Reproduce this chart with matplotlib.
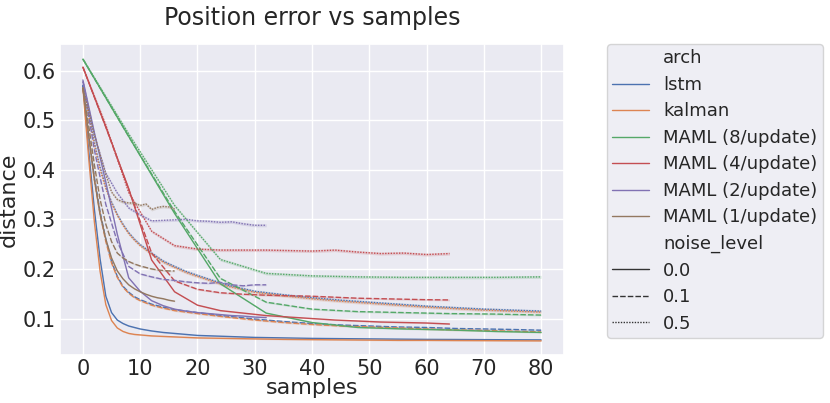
import matplotlib
matplotlib.use("Agg")
import matplotlib.pyplot as plt
from matplotlib.lines import Line2D
import seaborn as sns
import numpy as np

sns.set_theme(style="darkgrid")
plt.rcParams['font.family'] = ['DejaVu Sans']

# ---------------- data ----------------
archs = ["lstm", "kalman", "MAML (8/update)", "MAML (4/update)",
         "MAML (2/update)", "MAML (1/update)"]
noise_levels = ["0.0", "0.1", "0.5"]
# approximate confidence half-width per noise level
ci_half = [0.0012, 0.0018, 0.0030]

lk_x = [0, 1, 2, 3, 4, 5, 6, 7, 8, 9, 10, 12, 14, 16, 18, 20, 25, 30, 35,
        40, 45, 50, 55, 60, 65, 70, 75, 80]
lstm_00 = [0.570, 0.440, 0.320, 0.220, 0.145, 0.112, 0.097, 0.090, 0.085, 0.082,
           0.079, 0.075, 0.072, 0.070, 0.068, 0.066, 0.064, 0.062, 0.061, 0.060,
           0.0595, 0.059, 0.0585, 0.058, 0.0578, 0.0575, 0.0572, 0.057]
lstm_01 = [0.570, 0.470, 0.385, 0.315, 0.260, 0.215, 0.185, 0.165, 0.153, 0.144,
           0.138, 0.129, 0.123, 0.118, 0.115, 0.112, 0.105, 0.099, 0.094, 0.090,
           0.087, 0.085, 0.083, 0.082, 0.080, 0.079, 0.078, 0.0765]
lstm_05 = [0.570, 0.515, 0.455, 0.405, 0.365, 0.335, 0.310, 0.290, 0.273, 0.260,
           0.249, 0.232, 0.216, 0.205, 0.195, 0.187, 0.168, 0.155, 0.148, 0.142,
           0.137, 0.133, 0.129, 0.125, 0.122, 0.119, 0.117, 0.115]
kalman_00 = [0.565, 0.425, 0.295, 0.195, 0.128, 0.096, 0.081, 0.074, 0.070, 0.068,
             0.067, 0.065, 0.064, 0.063, 0.062, 0.061, 0.060, 0.059, 0.058, 0.0575,
             0.057, 0.0565, 0.056, 0.056, 0.0557, 0.0555, 0.0552, 0.055]
kalman_01 = [0.565, 0.465, 0.380, 0.310, 0.255, 0.212, 0.183, 0.163, 0.151, 0.142,
             0.136, 0.127, 0.121, 0.116, 0.113, 0.110, 0.103, 0.097, 0.092, 0.088,
             0.085, 0.083, 0.081, 0.079, 0.077, 0.076, 0.0745, 0.073]
kalman_05 = [0.565, 0.510, 0.450, 0.400, 0.362, 0.332, 0.308, 0.288, 0.271, 0.258,
             0.247, 0.230, 0.214, 0.203, 0.193, 0.185, 0.166, 0.153, 0.146, 0.140,
             0.135, 0.131, 0.127, 0.123, 0.120, 0.117, 0.115, 0.113]

m8_x = [0, 8, 16, 24, 32, 40, 48, 56, 64, 72, 80]
m8_00 = [0.623, 0.467, 0.312, 0.170, 0.111, 0.092, 0.082, 0.079, 0.077, 0.074, 0.072]
m8_01 = [0.623, 0.467, 0.316, 0.181, 0.133, 0.119, 0.114, 0.112, 0.110, 0.109, 0.107]
m8_05 = [0.623, 0.472, 0.328, 0.219, 0.191, 0.186, 0.184, 0.183, 0.183, 0.183, 0.184]

m4_x = [0, 4, 8, 12, 16, 20, 24, 28, 32, 36, 40, 44, 48, 52, 56, 60, 64]
m4_00 = [0.607, 0.486, 0.362, 0.218, 0.154, 0.127, 0.116, 0.111, 0.106, 0.103,
         0.100, 0.097, 0.095, 0.093, 0.092, 0.091, 0.089]
m4_01 = [0.607, 0.486, 0.360, 0.232, 0.176, 0.159, 0.152, 0.149, 0.147, 0.146,
         0.145, 0.143, 0.141, 0.140, 0.139, 0.138, 0.1375]
m4_05 = [0.607, 0.490, 0.354, 0.276, 0.247, 0.240, 0.238, 0.238, 0.238, 0.237,
         0.236, 0.238, 0.234, 0.231, 0.232, 0.229, 0.231]

m2_x = [0, 2, 4, 6, 8, 10, 12, 14, 16, 18, 20, 22, 24, 26, 28, 30, 32]
m2_00 = [0.581, 0.475, 0.375, 0.270, 0.182, 0.155, 0.136, 0.126, 0.119, 0.115,
         0.112, 0.110, 0.108, 0.106, 0.105, 0.103, 0.102]
m2_01 = [0.578, 0.440, 0.330, 0.255, 0.205, 0.190, 0.184, 0.179, 0.177, 0.174,
         0.172, 0.171, 0.173, 0.168, 0.166, 0.168, 0.168]
m2_05 = [0.578, 0.470, 0.393, 0.353, 0.323, 0.309, 0.297, 0.298, 0.299, 0.300,
         0.297, 0.296, 0.294, 0.295, 0.291, 0.288, 0.288]

m1_x = list(range(0, 17))
m1_00 = [0.565, 0.470, 0.380, 0.310, 0.260, 0.222, 0.196, 0.180, 0.168, 0.160,
         0.154, 0.149, 0.145, 0.142, 0.140, 0.137, 0.135]
m1_01 = [0.565, 0.490, 0.410, 0.340, 0.290, 0.255, 0.232, 0.222, 0.215, 0.210,
         0.206, 0.203, 0.200, 0.198, 0.197, 0.196, 0.196]
m1_05 = [0.565, 0.520, 0.470, 0.430, 0.390, 0.355, 0.340, 0.335, 0.333, 0.333,
         0.328, 0.331, 0.320, 0.324, 0.326, 0.325, 0.321]

series = {
    "lstm": (lk_x, [lstm_00, lstm_01, lstm_05]),
    "kalman": (lk_x, [kalman_00, kalman_01, kalman_05]),
    "MAML (8/update)": (m8_x, [m8_00, m8_01, m8_05]),
    "MAML (4/update)": (m4_x, [m4_00, m4_01, m4_05]),
    "MAML (2/update)": (m2_x, [m2_00, m2_01, m2_05]),
    "MAML (1/update)": (m1_x, [m1_00, m1_01, m1_05]),
}

# ---------------- styling ----------------
palette = sns.color_palette("deep", len(archs))
dashes = ["", (4, 1.5), (1, 1)]
LW = 1.0

fig = plt.figure(figsize=(8.3, 4.03), dpi=100)
ax = fig.add_axes([60 / 830, 48 / 403, 504 / 830, 311 / 403])

for ci, arch in enumerate(archs):
    xs, ys_list = series[arch]
    for si, ys in enumerate(ys_list):
        y = np.asarray(ys)
        ax.fill_between(xs, y - ci_half[si], y + ci_half[si],
                        color=palette[ci], alpha=0.2, lw=0)
        line, = ax.plot(xs, ys, color=palette[ci], lw=LW)
        if dashes[si]:
            line.set_dashes(dashes[si])

ax.set_xlim(-4, 84)
ax.set_ylim(0.0265, 0.6535)
ax.set_xticks(range(0, 81, 10))
ax.set_yticks([0.1, 0.2, 0.3, 0.4, 0.5, 0.6])
ax.tick_params(labelsize=15, pad=3, length=0)
ax.set_xlabel("samples", fontsize=16, labelpad=-1)
ax.set_ylabel("distance", fontsize=16, labelpad=3)
ax.set_title("Position error vs samples", fontsize=17, pad=14)

# legend (seaborn style with subtitles)
handles, labels = [], []
handles.append(Line2D([], [], linestyle="none")); labels.append("arch")
for ci, arch in enumerate(archs):
    handles.append(Line2D([], [], color=palette[ci], lw=LW)); labels.append(arch)
handles.append(Line2D([], [], linestyle="none")); labels.append("noise_level")
for si, nl in enumerate(noise_levels):
    h = Line2D([], [], color=".2", lw=LW)
    if dashes[si]:
        h.set_dashes(dashes[si])
    handles.append(h); labels.append(nl)

leg = fig.legend(handles, labels, loc="upper left",
                 bbox_to_anchor=(607 / 830, 1 - 44 / 403),
                 fontsize=13, labelspacing=0.47, borderaxespad=0,
                 borderpad=0.3, handlelength=2.0, frameon=True)
leg.get_frame().set_facecolor("#EAEAF2")
leg.get_frame().set_edgecolor("0.8")

fig.savefig("out.png", dpi=100)
